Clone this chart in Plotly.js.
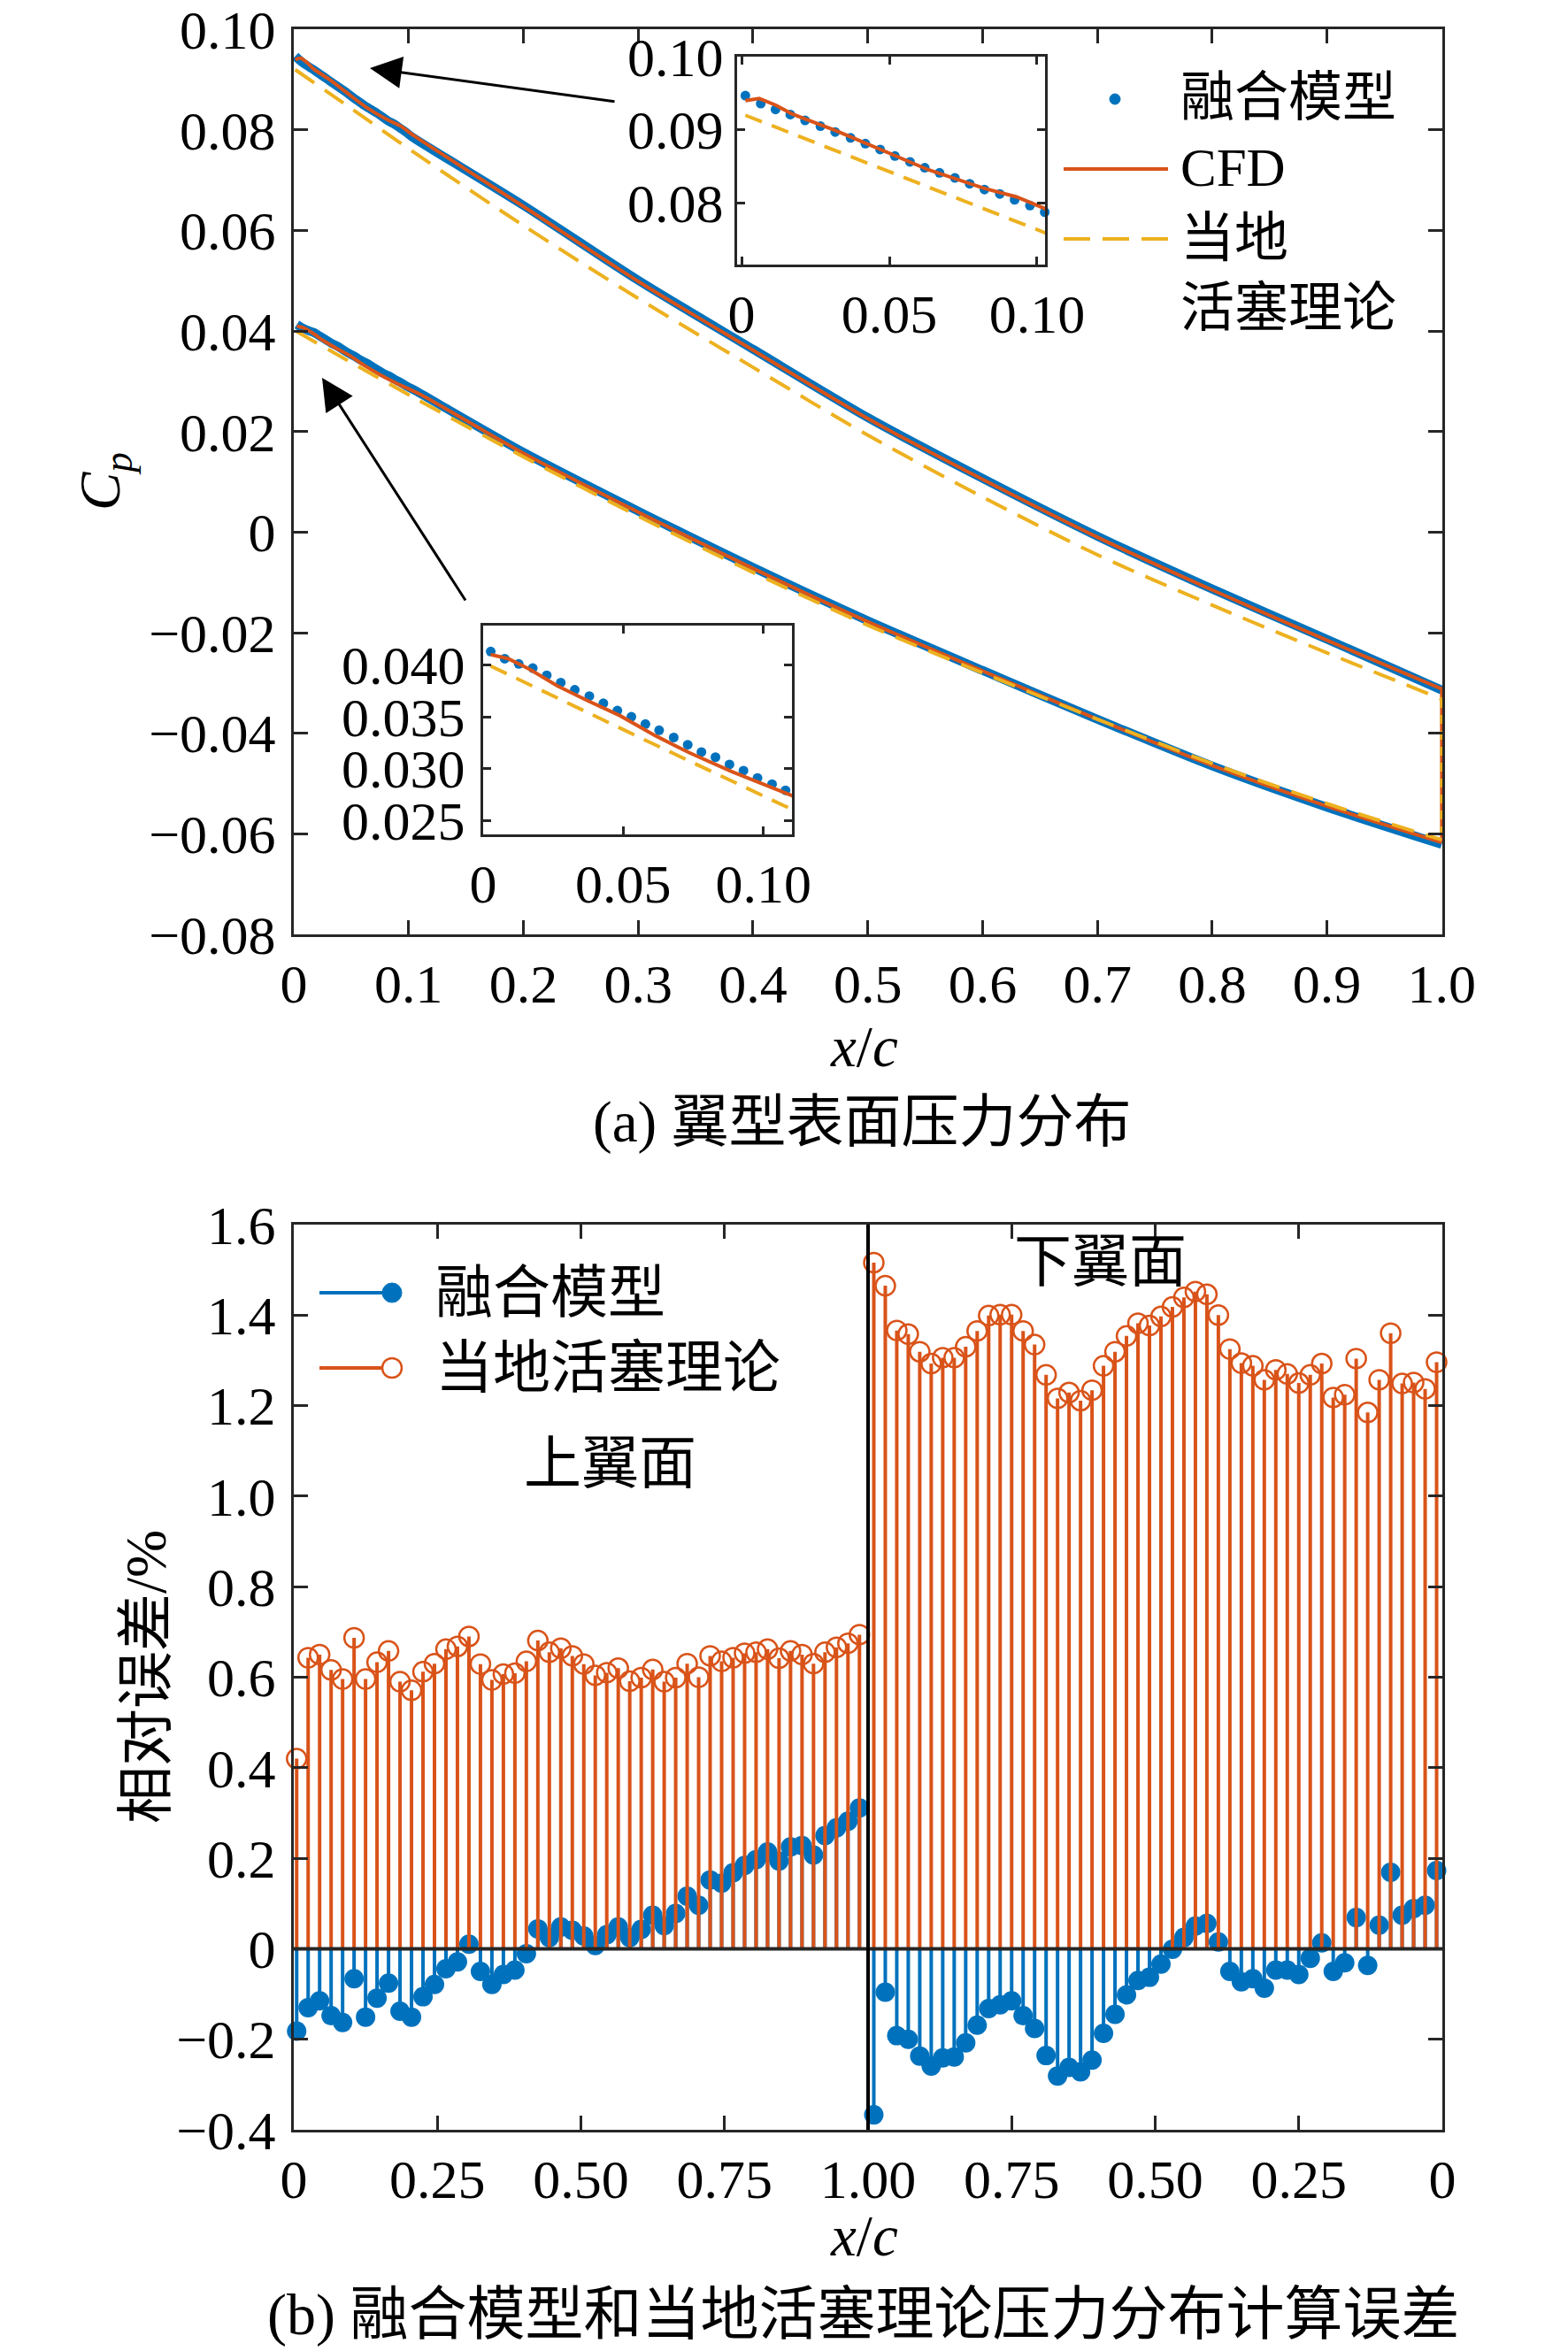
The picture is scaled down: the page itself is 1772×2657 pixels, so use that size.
<!DOCTYPE html>
<html>
<head>
<meta charset="utf-8">
<script src="https://cdn.plot.ly/plotly-3.0.1.min.js"></script>
<style>html,body{margin:0;padding:0;background:#fff;}</style>
</head>
<body>
<div id="chart" style="width:1772px;height:2657px;"></div>
<script>
// ---------------- (a) surface pressure distribution ----------------
// Upper surface
const fusionUpperX  = [0.0013,0.0065,0.0115,0.0165,0.0215,0.0267,0.0317,0.0369,0.0419,0.0469,0.0519,0.0570,0.0620,0.0670,0.0722,0.0772,0.0822,0.0874,0.0924,0.0976,0.1026,0.2,0.3,0.4,0.5,0.6,0.7,0.8,0.9,1.0];
const fusionUpperCp = [0.0947,0.0936,0.0928,0.0921,0.0913,0.0905,0.0897,0.0889,0.0881,0.0873,0.0864,0.0856,0.0848,0.0841,0.0834,0.0826,0.0818,0.0812,0.0804,0.0796,0.0787,0.0650,0.0501,0.0364,0.0228,0.0107,-0.0008,-0.0113,-0.0213,-0.0314];
const cfdUpperX  = [0.0013,0.0060,0.0115,0.0170,0.0319,0.0485,0.0633,0.0819,0.0930,0.1044,0.2,0.3,0.4,0.5,0.6,0.7,0.8,0.9,1.0];
const cfdUpperCp = [0.0940,0.0943,0.0934,0.0922,0.0899,0.0870,0.0845,0.0820,0.0808,0.0789,0.0648,0.0499,0.0362,0.0226,0.0105,-0.0010,-0.0115,-0.0215,-0.0312];
const lptUpperX  = [0.0013,0.0519,0.1044,0.2,0.3,0.4,0.5,0.6,0.7,0.8,0.9,1.0];
const lptUpperCp = [0.0920,0.0840,0.0756,0.0610,0.0465,0.0328,0.0193,0.0070,-0.0045,-0.0145,-0.0240,-0.0332];
// Lower surface
const fusionLowerX  = [0.0027,0.0077,0.0127,0.0177,0.0227,0.0277,0.0327,0.0379,0.0429,0.0479,0.0529,0.0579,0.0628,0.0680,0.0730,0.0779,0.0829,0.0879,0.0929,0.0979,0.1031,0.1079,0.2,0.3,0.4,0.5,0.6,0.7,0.8,0.9,1.0];
const fusionLowerCp = [0.0413,0.0406,0.0401,0.0397,0.0390,0.0383,0.0376,0.0370,0.0363,0.0356,0.0350,0.0343,0.0337,0.0330,0.0323,0.0316,0.0311,0.0304,0.0298,0.0291,0.0285,0.0279,0.0159,0.0042,-0.0070,-0.0176,-0.0275,-0.0372,-0.0465,-0.0547,-0.0621];
const cfdLowerX  = [0.0027,0.0090,0.0165,0.0264,0.0377,0.0489,0.0613,0.0738,0.0888,0.1102,0.2,0.3,0.4,0.5,0.6,0.7,0.8,0.9,1.0];
const cfdLowerCp = [0.0410,0.0406,0.0396,0.0380,0.0365,0.0351,0.0332,0.0315,0.0297,0.0274,0.0157,0.0040,-0.0072,-0.0178,-0.0276,-0.0372,-0.0464,-0.0545,-0.0617];
const lptLowerX  = [0.0027,0.0551,0.1075,0.2,0.3,0.4,0.5,0.6,0.7,0.8,0.9,1.0];
const lptLowerCp = [0.0399,0.0331,0.0264,0.0150,0.0032,-0.0080,-0.0185,-0.0280,-0.0372,-0.0460,-0.0540,-0.0612];

const cpTickVals = [-0.08,-0.06,-0.04,-0.02,0,0.02,0.04,0.06,0.08,0.10];
const cpTickText = ['\u22120.08','\u22120.06','\u22120.04','\u22120.02','0','0.02','0.04','0.06','0.08','0.10'];
const xcTickVals = [0,0.1,0.2,0.3,0.4,0.5,0.6,0.7,0.8,0.9,1.0];
const xcTickText = ['0','0.1','0.2','0.3','0.4','0.5','0.6','0.7','0.8','0.9','1.0'];
const inset1YVals = [0.08,0.09,0.10];
const inset1YText = ['0.08','0.09','0.10'];
const inset2YVals = [0.025,0.030,0.035,0.040];
const inset2YText = ['0.025','0.030','0.035','0.040'];
const insetXVals = [0,0.05,0.10];
const insetXText = ['0','0.05','0.10'];
const legendTopNames = ['融合模型','CFD','当地','活塞理论'];

// ---------------- (b) relative error (%) ----------------
const xcUpperStations = [0.005,0.025,0.045,0.065,0.085,0.105,0.125,0.145,0.165,0.185,0.205,0.225,0.245,0.265,0.285,0.305,0.325,0.345,0.365,0.385,0.405,0.425,0.445,0.465,0.485,0.505,0.525,0.545,0.565,0.585,0.605,0.625,0.645,0.665,0.685,0.705,0.725,0.745,0.765,0.785,0.805,0.825,0.845,0.865,0.885,0.905,0.925,0.945,0.965,0.985];
const xcLowerStations = [0.99,0.97,0.95,0.93,0.91,0.89,0.87,0.85,0.83,0.81,0.79,0.77,0.75,0.73,0.71,0.69,0.67,0.65,0.63,0.61,0.59,0.57,0.55,0.53,0.51,0.49,0.47,0.45,0.43,0.41,0.39,0.37,0.35,0.33,0.31,0.29,0.27,0.25,0.23,0.21,0.19,0.17,0.15,0.13,0.11,0.09,0.07,0.05,0.03,0.01];
const errFusionUpper = [-0.182,-0.130,-0.115,-0.148,-0.163,-0.066,-0.151,-0.109,-0.076,-0.138,-0.151,-0.106,-0.079,-0.044,-0.029,0.010,-0.050,-0.079,-0.057,-0.047,-0.011,0.044,0.025,0.048,0.041,0.028,0.007,0.031,0.048,0.025,0.043,0.074,0.051,0.078,0.116,0.096,0.152,0.145,0.168,0.184,0.197,0.214,0.194,0.225,0.228,0.207,0.250,0.267,0.282,0.311];
const errLptUpper = [0.420,0.643,0.650,0.616,0.596,0.687,0.596,0.633,0.658,0.590,0.571,0.612,0.630,0.662,0.668,0.690,0.629,0.594,0.607,0.609,0.635,0.681,0.655,0.664,0.647,0.629,0.604,0.610,0.620,0.591,0.599,0.617,0.590,0.599,0.630,0.600,0.647,0.635,0.643,0.653,0.655,0.662,0.642,0.658,0.650,0.630,0.655,0.666,0.675,0.694];
const errFusionLower = [-0.367,-0.096,-0.192,-0.200,-0.237,-0.259,-0.241,-0.239,-0.208,-0.169,-0.132,-0.124,-0.115,-0.148,-0.176,-0.236,-0.281,-0.262,-0.272,-0.246,-0.187,-0.145,-0.102,-0.070,-0.063,-0.034,-0.001,0.025,0.050,0.056,0.015,-0.050,-0.073,-0.066,-0.087,-0.047,-0.047,-0.057,-0.021,0.013,-0.050,-0.031,0.069,-0.037,0.052,0.169,0.074,0.089,0.096,0.173];
const errLptLower = [1.516,1.465,1.366,1.358,1.319,1.293,1.306,1.306,1.330,1.365,1.399,1.401,1.401,1.365,1.335,1.268,1.216,1.229,1.211,1.234,1.288,1.319,1.354,1.382,1.377,1.397,1.418,1.439,1.452,1.446,1.400,1.325,1.294,1.288,1.257,1.279,1.270,1.250,1.268,1.293,1.218,1.224,1.304,1.185,1.257,1.360,1.249,1.251,1.237,1.296];
const errYVals = [-0.4,-0.2,0,0.2,0.4,0.6,0.8,1.0,1.2,1.4,1.6];
const errYText = ['\u22120.4','\u22120.2','0','0.2','0.4','0.6','0.8','1.0','1.2','1.4','1.6'];
const errXVals = [0,0.25,0.5,0.75,1.0,1.25,1.5,1.75,2.0];
const errXText = ['0','0.25','0.50','0.75','1.00','0.75','0.50','0.25','0'];
const legendBottomNames = ['融合模型','当地活塞理论'];

// ---------------- styling ----------------
const W = 1772, H = 2657;
const px = v => v / W;
const py = v => 1 - v / H;
const BLUE = '#0072BD', ORANGE = '#D95319', YELLOW = '#EDB120', AX = '#262626';
const FONT = 'Liberation Serif, "Noto Sans CJK SC", serif';
const last = a => a[a.length - 1];

const stemErr = (vals, color) => ({
  type: 'data', symmetric: false, visible: true,
  array: vals.map(v => v < 0 ? -v : 0),
  arrayminus: vals.map(v => v > 0 ? v : 0),
  width: 0, thickness: 4, color: color
});
const errX = xcUpperStations.concat(xcLowerStations.map(v => 2 - v));
const errFusion = errFusionUpper.concat(errFusionLower);
const errLpt = errLptUpper.concat(errLptLower);

const SPL = {shape:'spline', smoothing:0.8};
const main = (x, y, line) => ({x, y, xaxis:'x', yaxis:'y', mode:'lines', line:Object.assign({}, SPL, line), showlegend:false, hoverinfo:'skip'});

const traces = [
  // main (a): fusion model (dense dots drawn as a band), CFD, local piston theory
  main(fusionUpperX, fusionUpperCp, {color:BLUE, width:10}),
  main(fusionLowerX, fusionLowerCp, {color:BLUE, width:10}),
  main(cfdUpperX, cfdUpperCp, {color:ORANGE, width:4}),
  main(cfdLowerX, cfdLowerCp, {color:ORANGE, width:4}),
  {x:[last(cfdUpperX), last(cfdLowerX)], y:[last(cfdUpperCp), last(cfdLowerCp)], xaxis:'x', yaxis:'y', mode:'lines', line:{color:ORANGE, width:4}, showlegend:false},
  main(lptUpperX, lptUpperCp, {color:YELLOW, width:4, dash:'26px,14px'}),
  main(lptLowerX, lptLowerCp, {color:YELLOW, width:4, dash:'26px,14px'}),
  {x:[last(lptUpperX), last(lptLowerX)], y:[last(lptUpperCp), last(lptLowerCp)], xaxis:'x', yaxis:'y', mode:'lines', line:{color:YELLOW, width:4, dash:'10px,8px'}, showlegend:false},
  // inset 1 (upper surface)
  {x: fusionUpperX, y: fusionUpperCp, xaxis:'x3', yaxis:'y3', mode:'markers', showlegend:false, marker:{color:BLUE, size:11}, cliponaxis:false},
  {x: cfdUpperX, y: cfdUpperCp, xaxis:'x3', yaxis:'y3', mode:'lines', showlegend:false, line:{color:ORANGE, width:4}},
  {x: lptUpperX, y: lptUpperCp, xaxis:'x3', yaxis:'y3', mode:'lines', showlegend:false, line:{color:YELLOW, width:4, dash:'20px,12px'}},
  // inset 2 (lower surface)
  {x: fusionLowerX, y: fusionLowerCp, xaxis:'x4', yaxis:'y4', mode:'markers', showlegend:false, marker:{color:BLUE, size:11}, cliponaxis:false},
  {x: cfdLowerX, y: cfdLowerCp, xaxis:'x4', yaxis:'y4', mode:'lines', showlegend:false, line:{color:ORANGE, width:4}},
  {x: lptLowerX, y: lptLowerCp, xaxis:'x4', yaxis:'y4', mode:'lines', showlegend:false, line:{color:YELLOW, width:4, dash:'20px,12px'}},
  // (b) stems
  {x: errX, y: errFusion, xaxis:'x2', yaxis:'y2', mode:'markers', showlegend:false, cliponaxis:false,
   marker:{color:BLUE, size:22, symbol:'circle'}, error_y: stemErr(errFusion, BLUE)},
  {x: errX, y: errLpt, xaxis:'x2', yaxis:'y2', mode:'markers', showlegend:false, cliponaxis:false,
   marker:{color:ORANGE, size:22, symbol:'circle-open', line:{color:ORANGE, width:2.5}}, error_y: stemErr(errLpt, ORANGE)}
];

const baseAxis = (extra) => Object.assign({
  showgrid:false, zeroline:false, showline:true, linecolor:AX, linewidth:3, mirror:'ticks',
  ticks:'inside', ticklen:16, tickwidth:3, tickcolor:AX, ticklabeloverflow:'allow',
  tickfont:{family:FONT, size:62, color:'#000'}, tickmode:'array', fixedrange:true
}, extra);

const XD = [px(332), px(1630)];
const T = (x, y, text, size, extra) => Object.assign({xref:'paper', yref:'paper', x:px(x), y:py(y), text, showarrow:false,
  xanchor:'center', yanchor:'middle', font:{family:FONT, size:size, color:'#000'}}, extra || {});

const layout = {
  width: W, height: H,
  margin:{l:0, r:0, t:0, b:0},
  paper_bgcolor:'#fff', plot_bgcolor:'#fff',
  showlegend:false,
  xaxis: baseAxis({domain:XD, anchor:'y', range:[0,1.0005], tickvals:xcTickVals, ticktext:xcTickText}),
  yaxis: baseAxis({domain:[py(1056), py(33)], anchor:'x', range:[-0.08,0.10005], tickvals:cpTickVals, ticktext:cpTickText, ticklabelstandoff:5}),
  xaxis2: baseAxis({domain:XD, anchor:'y2', range:[0,2], tickvals:errXVals, ticktext:errXText}),
  yaxis2: baseAxis({domain:[py(2407), py(1384)], anchor:'x2', range:[-0.4,1.6], tickvals:errYVals, ticktext:errYText, ticklabelstandoff:5}),
  xaxis3: baseAxis({domain:[px(833), px(1181)], anchor:'y3', range:[-0.0015,0.1027], tickvals:insetXVals, ticktext:insetXText, ticklen:9}),
  yaxis3: baseAxis({domain:[py(299), py(64)], anchor:'x3', range:[0.0715,0.10005], tickvals:inset1YVals, ticktext:inset1YText, ticklen:9, ticklabelstandoff:0}),
  xaxis4: baseAxis({domain:[px(546), px(895)], anchor:'y4', range:[0,0.1102], tickvals:insetXVals, ticktext:insetXText, ticklen:9}),
  yaxis4: baseAxis({domain:[py(943), py(707)], anchor:'x4', range:[0.02365,0.0438], tickvals:inset2YVals, ticktext:inset2YText, ticklen:9, ticklabelstandoff:5}),
  shapes:[
    // baseline and upper/lower divider in (b)
    {type:'line', xref:'x2', yref:'y2', x0:0, x1:2, y0:0, y1:0, line:{color:AX, width:4}},
    {type:'line', xref:'x2', yref:'y2', x0:1, x1:1, y0:-0.4, y1:1.6, line:{color:'#000', width:4}},
    // legend symbols of (a)
    {type:'circle', xref:'paper', yref:'paper', x0:px(1254), x1:px(1266), y0:py(118), y1:py(106), fillcolor:BLUE, line:{color:BLUE, width:1}},
    {type:'line', xref:'paper', yref:'paper', x0:px(1202), x1:px(1320), y0:py(191), y1:py(191), line:{color:ORANGE, width:4}},
    {type:'line', xref:'paper', yref:'paper', x0:px(1202), x1:px(1320), y0:py(270), y1:py(270), line:{color:YELLOW, width:4, dash:'30px,14px'}},
    // legend symbols of (b)
    {type:'line', xref:'paper', yref:'paper', x0:px(361), x1:px(443), y0:py(1461), y1:py(1461), line:{color:BLUE, width:4}},
    {type:'circle', xref:'paper', yref:'paper', x0:px(432), x1:px(454), y0:py(1472), y1:py(1450), fillcolor:BLUE, line:{color:BLUE, width:1}},
    {type:'line', xref:'paper', yref:'paper', x0:px(361), x1:px(432), y0:py(1546), y1:py(1546), line:{color:ORANGE, width:4}},
    {type:'circle', xref:'paper', yref:'paper', x0:px(432), x1:px(454), y0:py(1557), y1:py(1535), fillcolor:'rgba(0,0,0,0)', line:{color:ORANGE, width:2.5}}
  ],
  annotations:[
    // arrows pointing from the insets to the leading edge
    {xref:'paper', yref:'paper', x:px(418), y:py(77), ax:278, ay:38, text:'', showarrow:true, arrowhead:2, arrowsize:2.4, arrowwidth:3, arrowcolor:'#000', standoff:0, startstandoff:0},
    {xref:'paper', yref:'paper', x:px(364), y:py(427), ax:163, ay:253, text:'', showarrow:true, arrowhead:2, arrowsize:2.4, arrowwidth:3, arrowcolor:'#000', standoff:0, startstandoff:0},
    // axis titles and captions
    T(118, 544, '<i>C</i><sub><i>p</i></sub>', 65, {textangle:-90}),
    T(977, 1183, '<i>x</i>/<i>c</i>', 65),
    T(974, 1268, '(a) 翼型表面压力分布', 65),
    T(165, 1895, '相对误差/%', 65, {textangle:-90}),
    T(977, 2527, '<i>x</i>/<i>c</i>', 65),
    T(975, 2616, '(b) 融合模型和当地活塞理论压力分布计算误差', 66),
    T(689, 1654, '上翼面', 65),
    T(1243, 1426, '下翼面', 65),
    // legend texts
    T(1332, 229, legendTopNames.join('<br>'), 61, {xanchor:'left', align:'left'}),
    T(490, 1503.5, legendBottomNames.join('<br>'), 65, {xanchor:'left', align:'left'})
  ]
};

Plotly.newPlot('chart', traces, layout, {staticPlot:true, displayModeBar:false});
</script>
</body>
</html>
